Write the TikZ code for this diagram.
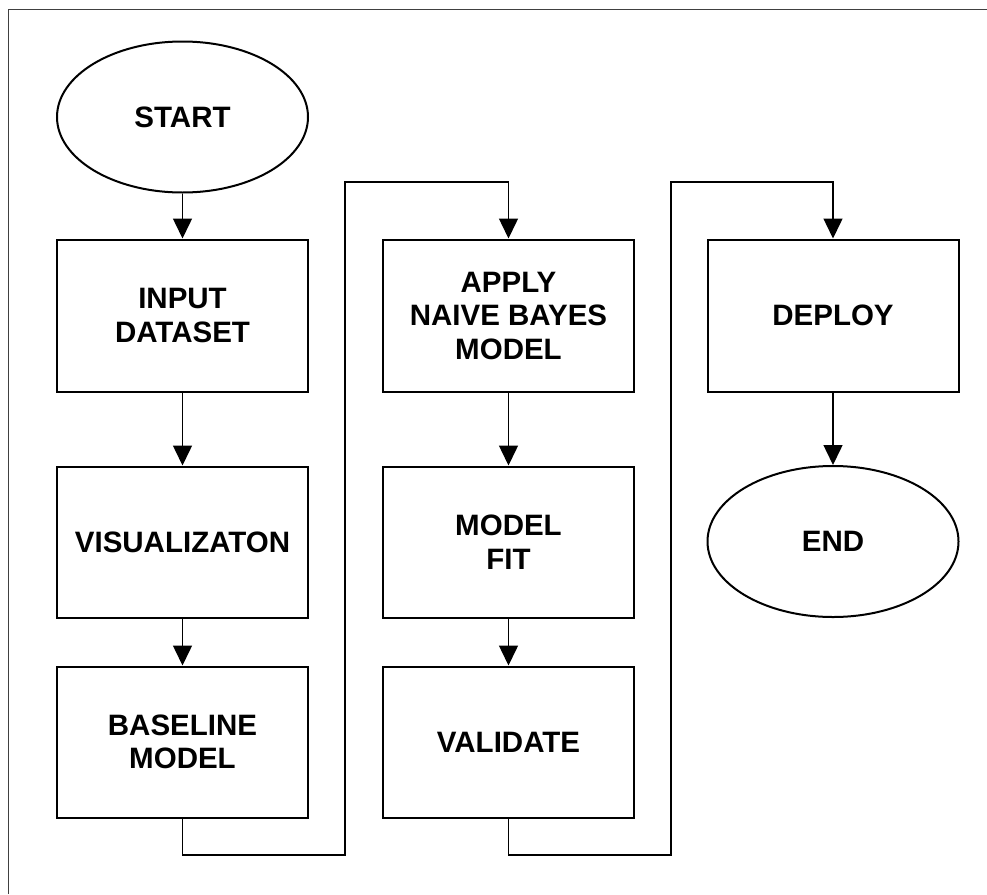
\documentclass[tikz,border=0pt]{standalone}
\usepackage{fontspec}
\setmainfont{Liberation Sans}
\usetikzlibrary{shapes.geometric,arrows.meta}

\begin{document}
\begin{tikzpicture}[x=1pt,y=-1pt,
                        box/.style={draw,line width=2pt,rectangle,minimum width=251pt,minimum height=151pt,inner sep=0pt,align=center},
                        oval/.style={draw,line width=2pt,ellipse,minimum width=251pt,minimum height=151pt,inner sep=0pt},
                        flow/.style={line width=1.5pt,-{Triangle[length=20pt,width=19pt]}}]
                        \useasboundingbox (0,0) rectangle (987,894);
                        {\fontsize{29.5}{33.5}\selectfont\bfseries

                        % Drawing frame, top and left side only
                        \draw [line width=1.5pt,black!75] (8.5,894) -- (8.5,9.5) -- (987,9.5);%

                        % Drawing oval START
                        \node [oval] (start) at (182.5,117) {START};%

                        % Drawing box INPUT DATASET
                        \node [box,minimum height=152pt] (input) at (182.5,315.5) {INPUT\\DATASET};%

                        % Drawing box VISUALIZATON
                        \node [box] (visual) at (182.5,542) {VISUALIZATON};%

                        % Drawing box BASELINE MODEL
                        \node [box] (baseline) at (182.5,742) {BASELINE\\MODEL};%

                        % Drawing box APPLY NAIVE BAYES MODEL
                        \node [box,minimum height=152pt] (apply) at (508.5,315.5) {APPLY\\NAIVE BAYES\\MODEL};%

                        % Drawing box MODEL FIT
                        \node [box] (fit) at (508.5,542) {MODEL\\FIT};%

                        % Drawing box VALIDATE
                        \node [box] (validate) at (508.5,742) {VALIDATE};%

                        % Drawing box DEPLOY
                        \node [box,minimum height=152pt] (deploy) at (833,315.5) {DEPLOY};%

                        % Drawing oval END
                        \node [oval] (finish) at (833,541.5) {END};%

                        % Turning points of the two long links
                        \coordinate (lowA) at (345,855);%
                        \coordinate (highA) at (345,182);%
                        \coordinate (lowB) at (671,855);%
                        \coordinate (highB) at (671,182);%

                        % Drawing arrows down the first column
                        \draw [flow] (start) -- (input);%
                        \draw [flow] (input) -- (visual);%
                        \draw [flow] (visual) -- (baseline);%
                        \draw [flow] (baseline.south) |- (lowA) -- (highA) -| (apply.north);%

                        % Drawing arrows down the second column
                        \draw [flow] (apply) -- (fit);%
                        \draw [flow] (fit) -- (validate);%
                        \draw [flow] (validate.south) |- (lowB) -- (highB) -| (deploy.north);%

                        % Drawing arrow to END
                        \draw [flow] (deploy) -- (finish);%
                        }
                    \end{tikzpicture}
\end{document}
